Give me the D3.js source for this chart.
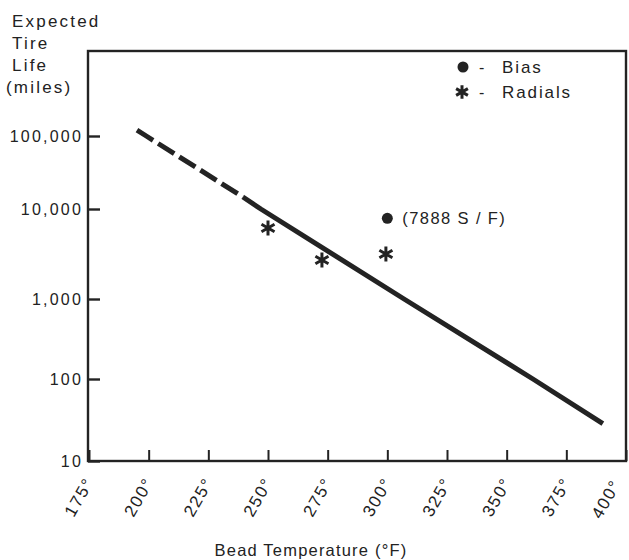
<!DOCTYPE html>
<html>
<head>
<meta charset="utf-8">
<script src="https://cdn.jsdelivr.net/npm/d3@7"></script>
<style>
  html, body { margin: 0; padding: 0; background: #fff; }
  svg text { font-family: "Liberation Sans", Arial, sans-serif; fill: #222; }
</style>
</head>
<body>
<svg id="chart" width="629" height="560"></svg>
<script>
// ---- data ----
const xTicks = [175, 200, 225, 250, 275, 300, 325, 350, 375, 400];
const xTickLabels = ["175°", "200°", "225°", "250°", "275°", "300°", "325°", "350°", "375°", "400°"];
const yTicks = [10, 100, 1000, 10000, 100000];
const yTickLabels = ["10", "100", "1,000", "10,000", "100,000"];
const dashedTemps = [195.1, 199, 239.5];
const dashedLife = [120000, 100000, 14600];
const solidTemps = [239.5, 247, 307, 361, 390.3];
const solidLife = [14600, 10000, 1000, 100, 28.6];
const biasTemps = [300];
const biasLife = [7888];
const biasLabels = ["(7888 S / F)"];
const radialTemps = [250, 272.6, 299.4];
const radialLife = [6150, 2710, 3160];
const yTitleLines = ["Expected", "Tire", "Life", "(miles)"];
const xTitle = "Bead Temperature (°F)";
const legendLabels = ["Bias", "Radials"];

// ---- layout ----
const svg = d3.select("#chart");
const L = 88, R = 626, T = 51, B = 461;
const ink = "#232323";
const FF = "'Liberation Sans', Arial, sans-serif";

const x = d3.scaleLinear().domain([175, 400]).range([L + 1, R]);
// hand-drawn log axis: decades are not equally spaced in the original
const y = d3.scaleLog().domain(yTicks).range([461, 379, 299, 209, 136]);

// frame
svg.append("rect").attr("x", L).attr("y", T).attr("width", R - L).attr("height", B - T)
  .attr("fill", "none").attr("stroke", ink).attr("stroke-width", 2.4);

// y axis
const yAxis = d3.axisLeft(y).tickValues(yTicks)
  .tickFormat((d, i) => yTickLabels[i]).tickSizeInner(-12).tickSizeOuter(0).tickPadding(5);
const gy = svg.append("g").attr("transform", `translate(${L},0)`).call(yAxis);
gy.select(".domain").remove();
gy.selectAll("line").attr("stroke", ink).attr("stroke-width", 2.4);
gy.selectAll("text").attr("font-size", 16).attr("letter-spacing", 2.2)
  .attr("font-family", FF).attr("fill", ink).attr("dy", "0.36em");

// x axis
const xAxis = d3.axisBottom(x).tickValues(xTicks)
  .tickFormat((d, i) => xTickLabels[i]).tickSizeInner(-11).tickSizeOuter(0).tickPadding(0);
const gx = svg.append("g").attr("transform", `translate(0,${B})`).call(xAxis);
gx.select(".domain").remove();
gx.selectAll("line").attr("stroke", ink).attr("stroke-width", 2);
gx.selectAll("text").attr("font-size", 17).attr("letter-spacing", 1.6)
  .attr("font-family", FF).attr("fill", ink)
  .attr("text-anchor", "end").attr("dy", null).attr("y", 0)
  .attr("transform", (d, i) => i === xTicks.length - 1 ? "translate(-5,23) rotate(-60)" : "translate(5,21) rotate(-60)");

// y title
svg.append("g").selectAll("text").data(yTitleLines).join("text")
  .attr("x", (d, i) => i === 3 ? 6 : 12)
  .attr("y", (d, i) => 27 + i * 22)
  .attr("font-size", 17).attr("letter-spacing", 2.2).text(d => d);

// x title
svg.append("text").attr("x", 311).attr("y", 556).attr("text-anchor", "middle")
  .attr("font-size", 16.5).attr("letter-spacing", 1.2).text(xTitle);

// trend lines
const line = d3.line().x(d => x(d[0])).y(d => y(d[1]));
svg.append("path").datum(dashedTemps.map((t, i) => [t, dashedLife[i]]))
  .attr("d", line).attr("fill", "none").attr("stroke", ink).attr("stroke-width", 5)
  .attr("stroke-dasharray", "19,6");
svg.append("path").datum(solidTemps.map((t, i) => [t, solidLife[i]]))
  .attr("d", line).attr("fill", "none").attr("stroke", ink).attr("stroke-width", 5);

// bias points
svg.append("g").selectAll("circle").data(biasTemps).join("circle")
  .attr("cx", d => x(d)).attr("cy", (d, i) => y(biasLife[i])).attr("r", 5.5).attr("fill", ink);
svg.append("g").selectAll("text").data(biasLabels).join("text")
  .attr("x", (d, i) => x(biasTemps[i]) + 15).attr("y", (d, i) => y(biasLife[i]) + 6)
  .attr("font-size", 16.5).attr("letter-spacing", 1.4).text(d => d);

// radial points
const ast = d3.symbol().type(d3.symbolAsterisk).size(160);
svg.append("g").selectAll("path").data(radialTemps).join("path")
  .attr("transform", (d, i) => `translate(${x(d)},${y(radialLife[i])})`)
  .attr("d", ast).attr("fill", "none").attr("stroke", ink).attr("stroke-width", 3);

// legend
svg.append("circle").attr("cx", 463).attr("cy", 67).attr("r", 5.5).attr("fill", ink);
svg.append("path").attr("transform", "translate(462,92)")
  .attr("d", d3.symbol().type(d3.symbolAsterisk).size(130)).attr("fill", "none")
  .attr("stroke", ink).attr("stroke-width", 3);
svg.append("g").selectAll("text.dash").data(legendLabels).join("text")
  .attr("x", 479).attr("y", (d, i) => 73 + i * 25).attr("font-size", 16).text("-");
svg.append("g").selectAll("text.lab").data(legendLabels).join("text")
  .attr("x", 502).attr("y", (d, i) => 73 + i * 25).attr("font-size", 17)
  .attr("letter-spacing", 1.9).text(d => d);
</script>
</body>
</html>
